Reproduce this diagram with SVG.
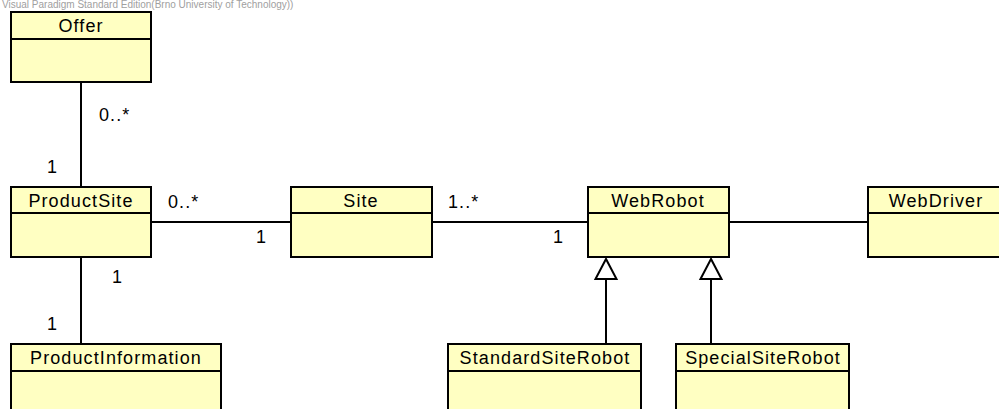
<svg xmlns="http://www.w3.org/2000/svg" width="999" height="409" viewBox="0 0 999 409">
<style>
.box{fill:#FFFFC2;stroke:#000;stroke-width:2}
.div{stroke:#000;stroke-width:2}
.hd{font-family:"Liberation Sans",Arial,sans-serif;font-size:18px;letter-spacing:1.1px;fill:#000;text-anchor:middle}
.lbl{font-family:"Liberation Sans",Arial,sans-serif;font-size:18px;letter-spacing:1.1px;fill:#000}
.ln{stroke:#000;stroke-width:2;fill:none}
.gen{fill:#fff;stroke:#000;stroke-width:2}
.wm{font-family:"Liberation Sans",Arial,sans-serif;font-size:10px;fill:#a0a0a0}
</style>
<rect width="999" height="409" fill="#fff"/>
<text class="wm" x="2" y="8">Visual Paradigm Standard Edition(Brno University of Technology))</text>
<g id="connectors">
<line class="ln" x1="81" y1="82" x2="81" y2="187"/>
<line class="ln" x1="81" y1="257" x2="81" y2="344"/>
<line class="ln" x1="151" y1="222" x2="291" y2="222"/>
<line class="ln" x1="432" y1="222" x2="588" y2="222"/>
<line class="ln" x1="729" y1="222" x2="868" y2="222"/>
<line class="ln" x1="606" y1="279" x2="606" y2="344"/>
<polygon class="gen" points="606,259 595.5,279 616.5,279"/>
<line class="ln" x1="711" y1="279" x2="711" y2="344"/>
<polygon class="gen" points="711,259 700.5,279 721.5,279"/>
<text class="lbl" x="99" y="121">0..*</text>
<text class="lbl" x="47" y="173">1</text>
<text class="lbl" x="168" y="208">0..*</text>
<text class="lbl" x="256" y="243">1</text>
<text class="lbl" x="448" y="208">1..*</text>
<text class="lbl" x="553" y="243">1</text>
<text class="lbl" x="112" y="283">1</text>
<text class="lbl" x="47" y="330">1</text>
</g>
<g id="Offer">
<rect class="box" x="11" y="12" width="140" height="70"/>
<line class="div" x1="11" y1="39" x2="151" y2="39"/>
<text class="hd" x="81" y="32">Offer</text>
</g>
<g id="ProductSite">
<rect class="box" x="11" y="187" width="140" height="70"/>
<line class="div" x1="11" y1="213" x2="151" y2="213"/>
<text class="hd" x="81" y="207">ProductSite</text>
</g>
<g id="Site">
<rect class="box" x="291" y="187" width="141" height="70"/>
<line class="div" x1="291" y1="213" x2="432" y2="213"/>
<text class="hd" x="361" y="207">Site</text>
</g>
<g id="WebRobot">
<rect class="box" x="588" y="187" width="141" height="70"/>
<line class="div" x1="588" y1="213" x2="729" y2="213"/>
<text class="hd" x="658" y="207">WebRobot</text>
</g>
<g id="WebDriver">
<rect class="box" x="868" y="187" width="141" height="70"/>
<line class="div" x1="868" y1="213" x2="1009" y2="213"/>
<text class="hd" x="936" y="207">WebDriver</text>
</g>
<g id="ProductInformation">
<rect class="box" x="11" y="344" width="210" height="80"/>
<line class="div" x1="11" y1="371" x2="221" y2="371"/>
<text class="hd" x="116" y="364">ProductInformation</text>
</g>
<g id="StandardSiteRobot">
<rect class="box" x="448" y="344" width="193" height="80"/>
<line class="div" x1="448" y1="371" x2="641" y2="371"/>
<text class="hd" x="545" y="364">StandardSiteRobot</text>
</g>
<g id="SpecialSiteRobot">
<rect class="box" x="676" y="344" width="173" height="80"/>
<line class="div" x1="676" y1="371" x2="849" y2="371"/>
<text class="hd" x="763" y="364">SpecialSiteRobot</text>
</g>
</svg>
